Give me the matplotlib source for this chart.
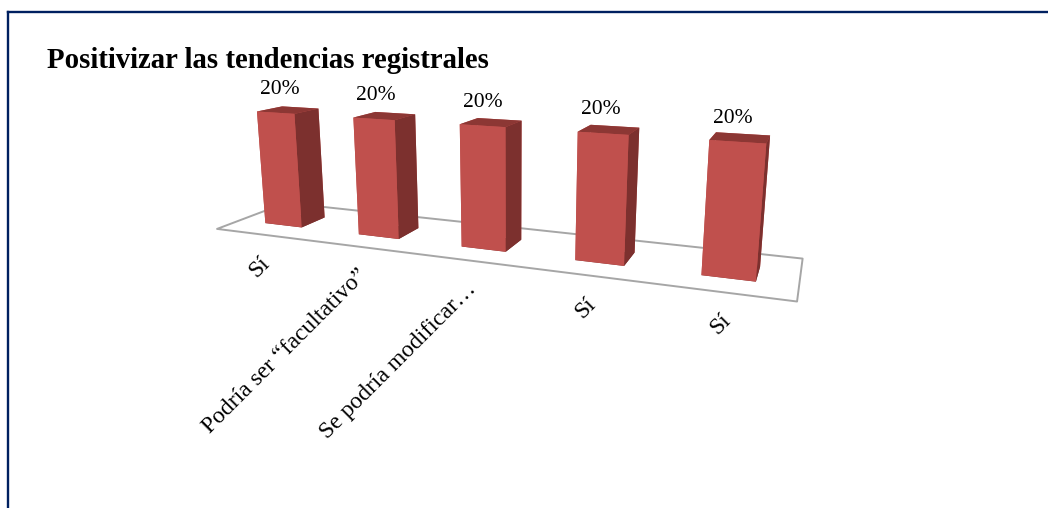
import numpy as np
import matplotlib
matplotlib.use('Agg')
import matplotlib.pyplot as plt
from matplotlib.lines import Line2D
from mpl_toolkits.mplot3d.art3d import Poly3DCollection

# datos del gráfico
titulo = 'Positivizar las tendencias registrales'
categorias = ['Sí', 'Podría ser “facultativo”', 'Se podría modificar…', 'Sí', 'Sí']
valores = [0.20, 0.20, 0.20, 0.20, 0.20]

fuente = 'Liberation Serif'
rojo_frente = '#C0504D'
rojo_techo = '#8C3734'
rojo_lado = '#7C302E'

fig = plt.figure(figsize=(10.48, 5.08), dpi=100)

# recuadro azul del gráfico (arriba e izquierda)
fig.add_artist(Line2D([0.0075, 1.0], [0.9764, 0.9764], color='#002060', lw=1.7,
                      transform=fig.transFigure))
fig.add_artist(Line2D([0.0075, 0.0075], [0.0, 0.9764], color='#002060', lw=1.7,
                      transform=fig.transFigure))

fig.text(0.0445, 0.866, titulo, fontsize=20.7, fontweight='bold', family=fuente,
         va='baseline', ha='left')

ax = fig.add_axes([0.1164, -0.1634, 0.7405, 1.5276], projection='3d',
                  computed_zorder=False)
ax.patch.set_visible(False)

n = len(categorias)
x = np.arange(n)
ancho = 0.2       # media anchura de cada columna
fondo0, fondo1 = 0.30, 0.66   # profundidad de las columnas

# suelo del gráfico 3D
suelo = Poly3DCollection([[(-0.5, 0, 0), (n - 0.5, 0, 0), (n - 0.5, 1, 0), (-0.5, 1, 0)]],
                         facecolor='white', edgecolor='#A6A6A6', linewidth=1.4, zorder=1)
ax.add_collection3d(suelo)

# caras: -z, +z, -y (frente), +y, -x, +x (lado derecho)
caras = [rojo_lado, rojo_techo, rojo_frente, rojo_frente, rojo_frente, rojo_lado]
ax.bar3d(x - ancho, np.full(n, fondo0), np.zeros(n), 2 * ancho, fondo1 - fondo0,
         valores, color=caras * n, shade=False, linewidth=0, zorder=2)

ax.view_init(elev=13.75, azim=-69.37, roll=-0.14)
ax.set_proj_type('persp', focal_length=0.194)
ax.set_box_aspect((1, 0.338, 0.347))
ax.set_xlim(-0.747, 5.253)
ax.set_ylim(-0.5, 1.5)
ax.set_zlim(-0.111, 0.289)
ax.set_axis_off()


def proyectar(xs, ys, zs):
    M = ax.get_proj()
    v = M @ np.vstack([xs, ys, zs, np.ones(len(xs))])
    return v[0] / v[3], v[1] / v[3]


# etiquetas de datos: centradas sobre la cara frontal, encima de la columna
vals = np.array(valores)
mx, _ = proyectar(x, np.full(n, fondo0), vals / 2)
_, ty = proyectar(x, np.full(n, fondo0), vals)
for xi, yi, v in zip(mx, ty, valores):
    ax.annotate(f'{v:.0%}', xy=(xi, yi), xycoords='data', xytext=(0, 17),
                textcoords='offset points', ha='center', va='center',
                fontsize=15.5, family=fuente)

# etiquetas de categoría giradas bajo el borde delantero del suelo
cx, cy = proyectar(x, np.zeros(n), np.zeros(n))
for xi, yi, cat in zip(cx, cy, categorias):
    ax.annotate(cat, xy=(xi, yi), xycoords='data', xytext=(3, -18.5),
                textcoords='offset points', ha='right', va='center',
                rotation=45, rotation_mode='anchor', fontsize=17, family=fuente)

fig.savefig('out.png')
